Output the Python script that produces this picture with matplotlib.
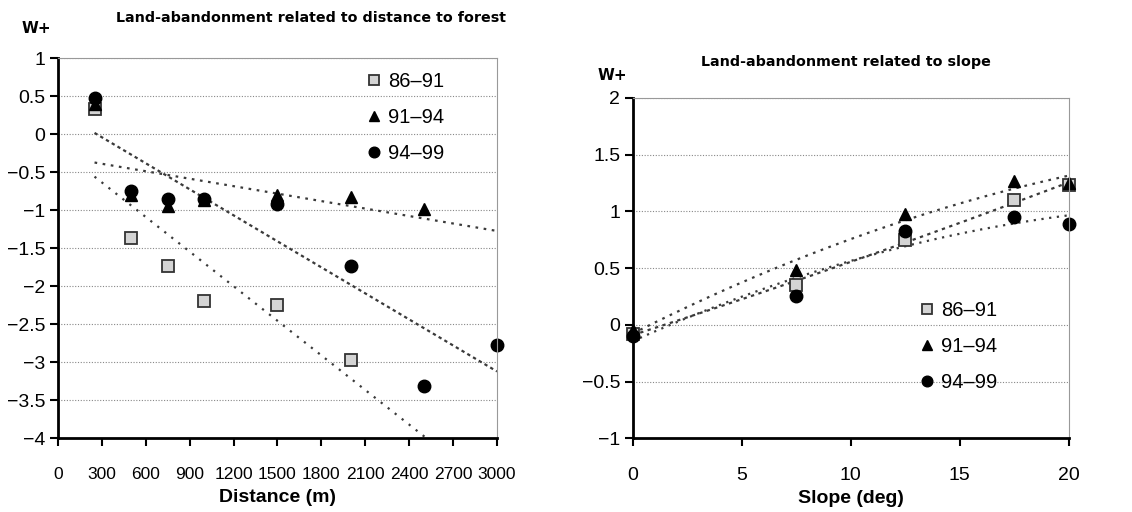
import numpy as np
import matplotlib
matplotlib.use("Agg")
import matplotlib.pyplot as plt
from matplotlib.ticker import FuncFormatter

plt.rcParams['font.family'] = ['Liberation Sans', 'DejaVu Sans']

series = ["86\u201391", "91\u201394", "94\u201399"]

# Left panel: distance to forest
dist_sq = [250, 500, 750, 1000, 1500, 2000]
w_sq = [0.33, -1.37, -1.73, -2.20, -2.25, -2.97]
dist_tr = [250, 500, 750, 1000, 1500, 2000, 2500]
w_tr = [0.40, -0.80, -0.95, -0.87, -0.80, -0.83, -0.98]
dist_ci = [250, 500, 750, 1000, 1500, 2000, 2500, 3000]
w_ci = [0.48, -0.75, -0.85, -0.85, -0.92, -1.73, -3.32, -2.78]
dist_ticks = [0, 300, 600, 900, 1200, 1500, 1800, 2100, 2400, 2700, 3000]
left_yticks = [1, 0.5, 0, -0.5, -1, -1.5, -2, -2.5, -3, -3.5, -4]

# Right panel: slope
slope_x = [0, 7.5, 12.5, 17.5, 20]
s_sq = [-0.08, 0.35, 0.75, 1.10, 1.23]
s_tr = [-0.05, 0.48, 0.98, 1.27, 1.25]
s_ci = [-0.10, 0.25, 0.83, 0.95, 0.89]
slope_ticks = [0, 5, 10, 15, 20]
right_yticks = [2, 1.5, 1, 0.5, 0, -0.5, -1]

fig = plt.figure(figsize=(11.32, 5.12), dpi=100)
axL = fig.add_axes([0.0512, 0.1445, 0.3878, 0.742])
axR = fig.add_axes([0.559, 0.144, 0.385, 0.665])

sq_style = dict(marker='s', ms=8.5, mfc='#d4d4d4', mec='#333333', mew=1.3, ls='none')
tr_style = dict(marker='^', ms=9, mfc='black', mec='black', ls='none')
ci_style = dict(marker='o', ms=9, mfc='black', mec='black', ls='none')

fmt = FuncFormatter(lambda v, p: ('%g' % v).replace('-', '\u2212'))

def style_axes(ax, xlim, ylim, xticks, yticks):
    ax.set_xlim(*xlim)
    ax.set_ylim(*ylim)
    ax.set_xticks(xticks)
    ax.set_yticks(yticks)
    ax.xaxis.set_major_formatter(fmt)
    ax.yaxis.set_major_formatter(fmt)
    ax.yaxis.grid(True, ls=(0, (1, 1.5)), color='#888888', lw=0.8)
    ax.set_axisbelow(True)
    for s in ['top', 'right']:
        ax.spines[s].set_color('#999999')
        ax.spines[s].set_linewidth(0.8)
    for s in ['left', 'bottom']:
        ax.spines[s].set_color('black')
        ax.spines[s].set_linewidth(2)
    ax.tick_params(axis='both', direction='out', length=6, width=1.5, labelsize=14, pad=3)
    ax.tick_params(axis='x', pad=15)

leg_kw = dict(frameon=False, fontsize=14.5, handletextpad=0.3, handlelength=0.8,
              labelspacing=0.85, borderpad=0.2, markerscale=0.85)

# Left
style_axes(axL, (0, 3000), (-4, 1), dist_ticks, left_yticks)
axL.tick_params(axis='x', labelsize=12.5)
xs = np.linspace(250, 3000, 200)
for x, y, ls in [(dist_sq, w_sq, (0, (1, 3))), (dist_tr, w_tr, (0, (1.2, 2.5))), (dist_ci, w_ci, (0, (1.5, 1.5)))]:
    p = np.polyfit(x, y, 1)
    axL.plot(xs, np.polyval(p, xs), color='#3a3a3a', lw=1.6, ls=ls)
axL.plot(dist_sq, w_sq, label=series[0], **sq_style, clip_on=False)
axL.plot(dist_tr, w_tr, label=series[1], **tr_style, clip_on=False)
axL.plot(dist_ci, w_ci, label=series[2], **ci_style, clip_on=False)
axL.legend(loc='upper left', bbox_to_anchor=(0.67, 1.0), **leg_kw)
axL.set_xlabel("Distance (m)", fontsize=14, fontweight='bold')
axL.xaxis.label.set_va('center')
axL.xaxis.set_label_coords(0.5, -59 / 380)
fig.text(0.275, 0.965, "Land-abandonment related to distance to forest", ha='center', va='center',
         fontsize=10.3, fontweight='bold', family='DejaVu Sans')
fig.text(0.019, 0.945, "W+", ha='left', va='center', fontsize=11, fontweight='bold', family='DejaVu Sans')

# Right
style_axes(axR, (0, 20), (-1, 2), slope_ticks, right_yticks)
xs2 = np.linspace(0, 20, 200)
for x, y, ls in [(slope_x, s_sq, (0, (1.5, 2))), (slope_x, s_tr, (0, (1.2, 2.5))), (slope_x, s_ci, (0, (1, 2.5)))]:
    p = np.polyfit(x, y, 2)
    axR.plot(xs2, np.polyval(p, xs2), color='#3a3a3a', lw=1.6, ls=ls)
axR.plot(slope_x, s_sq, label=series[0], **sq_style, clip_on=False)
axR.plot(slope_x, s_tr, label=series[1], **tr_style, clip_on=False)
axR.plot(slope_x, s_ci, label=series[2], **ci_style, clip_on=False)
axR.legend(loc='upper left', bbox_to_anchor=(0.625, 0.445), **leg_kw)
axR.set_xlabel("Slope (deg)", fontsize=14, fontweight='bold')
axR.xaxis.label.set_va('center')
axR.xaxis.set_label_coords(0.5, -60 / 340)
fig.text(0.747, 0.878, "Land-abandonment related to slope", ha='center', va='center',
         fontsize=10.3, fontweight='bold', family='DejaVu Sans')
fig.text(0.528, 0.853, "W+", ha='left', va='center', fontsize=11, fontweight='bold', family='DejaVu Sans')

fig.savefig("out.png", dpi=100)
